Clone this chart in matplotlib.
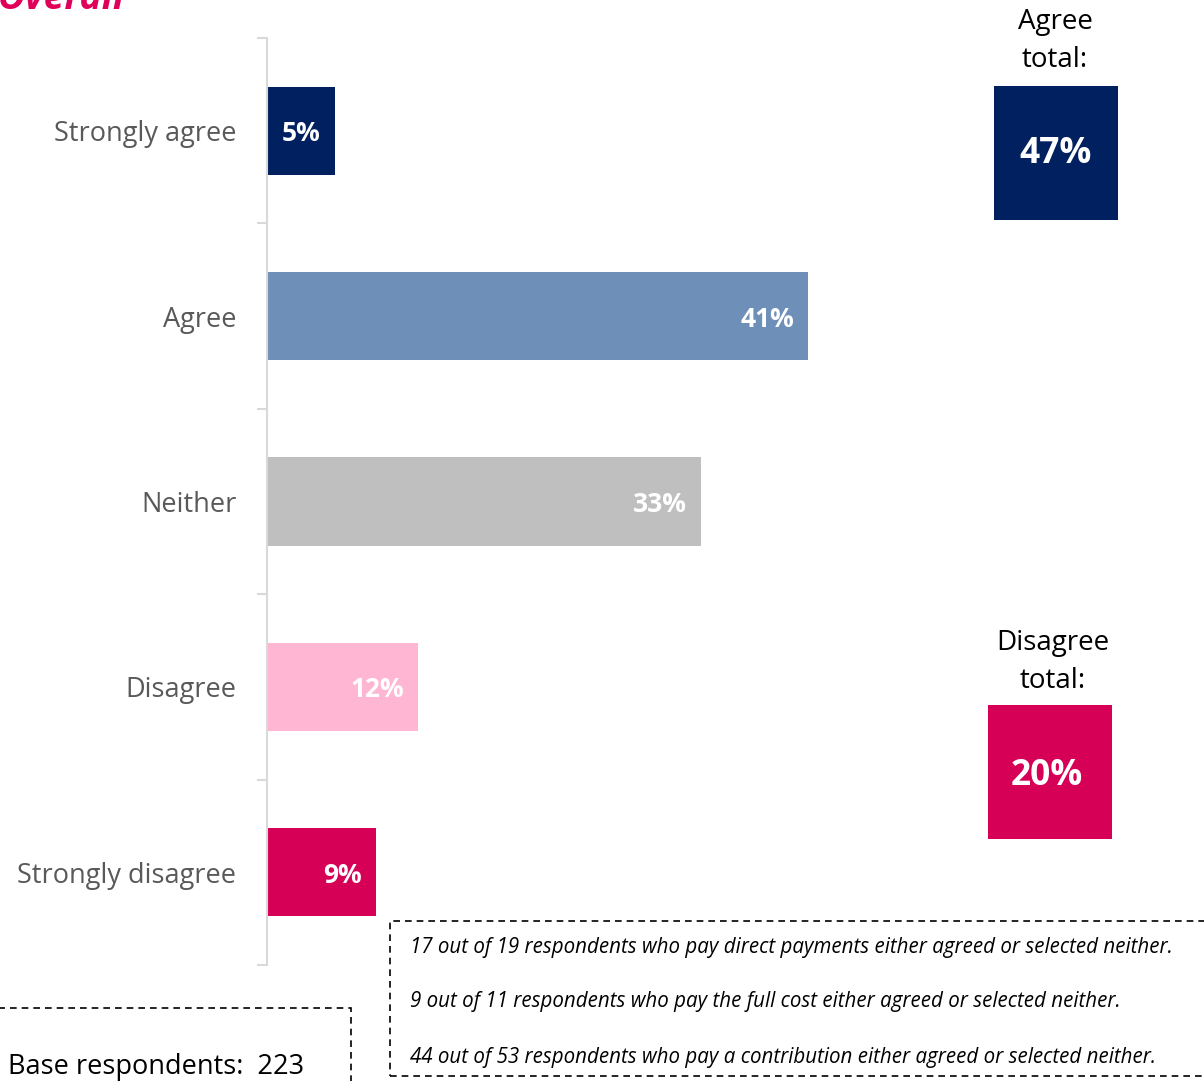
import matplotlib
matplotlib.use("Agg")
import matplotlib.pyplot as plt
from matplotlib.patches import Rectangle

categories = ["Strongly agree", "Agree", "Neither", "Disagree", "Strongly disagree"]
values = [5.2, 41.6, 33.4, 11.6, 8.4]
labels = ["5%", "41%", "33%", "12%", "9%"]
colors = ["#002060", "#6E90B8", "#BFBFBF", "#FFB6D2", "#D60057"]
agree_total = "47%"
disagree_total = "20%"
notes = [
    "17 out of 19 respondents who pay direct payments either agreed or selected neither.",
    "9 out of 11 respondents who pay the full cost either agreed or selected neither.",
    "44 out of 53 respondents who pay a contribution either agreed or selected neither.",
]
base_text = "Base respondents:  223"

plt.rcParams['font.family'] = ['Open Sans', 'DejaVu Sans']

W, H = 1204, 1081
fig = plt.figure(figsize=(W / 100, H / 100), dpi=100)

def fx(px):
    return px / W

def fy(py):
    return 1 - py / H

ax = fig.add_axes([fx(267), fy(965), fx(1203) - fx(267), fy(38) - fy(965)])
y = list(range(len(categories)))
ax.barh(y, values, height=0.475, color=colors)
ax.set_ylim(4.5, -0.5)
ax.set_xlim(0, 72)
for s in ["top", "right", "bottom"]:
    ax.spines[s].set_visible(False)
ax.spines["left"].set_color("#D9D9D9")
ax.spines["left"].set_linewidth(1.5)
ax.set_xticks([])
ax.set_yticks(y)
ax.set_yticklabels(categories, fontsize=19.5, color="#595959")
ax.tick_params(axis="y", which="major", length=0, pad=22)
ax.set_yticks([i - 0.5 for i in range(len(categories) + 1)], minor=True)
ax.tick_params(axis="y", which="minor", length=7, width=1.5, color="#D9D9D9")

off = 14 / ((1203 - 267) / 72)
for yi, v, lab in zip(y, values, labels):
    ax.text(v - off, yi + 0.016, lab, ha="right", va="center", color="white",
            fontsize=19, fontweight="bold")

fig.text(fx(-2), fy(9), "Overall", color="#E0005A", fontsize=27,
         fontweight="bold", fontstyle="italic", va="baseline", ha="left")

fig.text(fx(1055), fy(22), "Agree", ha="center", va="center", fontsize=20, color="black")
fig.text(fx(1055), fy(60), "total:", ha="center", va="center", fontsize=20, color="black")
fig.patches.append(Rectangle((fx(994), fy(220)), fx(1118) - fx(994), fy(86) - fy(220),
                             transform=fig.transFigure, facecolor="#002060", edgecolor="none"))
fig.text(fx(1056), fy(154), agree_total, ha="center", va="center", fontsize=25.5,
         fontweight="bold", color="white")

fig.text(fx(1053), fy(643), "Disagree", ha="center", va="center", fontsize=20, color="black")
fig.text(fx(1053), fy(681), "total:", ha="center", va="center", fontsize=20, color="black")
fig.patches.append(Rectangle((fx(988), fy(839)), fx(1112) - fx(988), fy(705) - fy(839),
                             transform=fig.transFigure, facecolor="#D60057", edgecolor="none"))
fig.text(fx(1047), fy(776), disagree_total, ha="center", va="center", fontsize=25.5,
         fontweight="bold", color="white")

fig.patches.append(Rectangle((fx(-10), fy(1095)), fx(351) - fx(-10), fy(1008) - fy(1095),
                             transform=fig.transFigure, facecolor="none", edgecolor="black",
                             linewidth=1.2, linestyle=(0, (4, 3)), clip_on=False))
fig.text(fx(8), fy(1067), base_text, ha="left", va="center", fontsize=19.5, color="black")

fig.patches.append(Rectangle((fx(390), fy(1076)), fx(1215) - fx(390), fy(921) - fy(1076),
                             transform=fig.transFigure, facecolor="none", edgecolor="black",
                             linewidth=1.2, linestyle=(0, (4, 3)), clip_on=False))
for py, t in zip([948, 1002, 1057], notes):
    fig.text(fx(410), fy(py), t, ha="left", va="center", fontsize=14.8,
             fontstyle="italic", color="black")

fig.savefig("out.png", dpi=100)
